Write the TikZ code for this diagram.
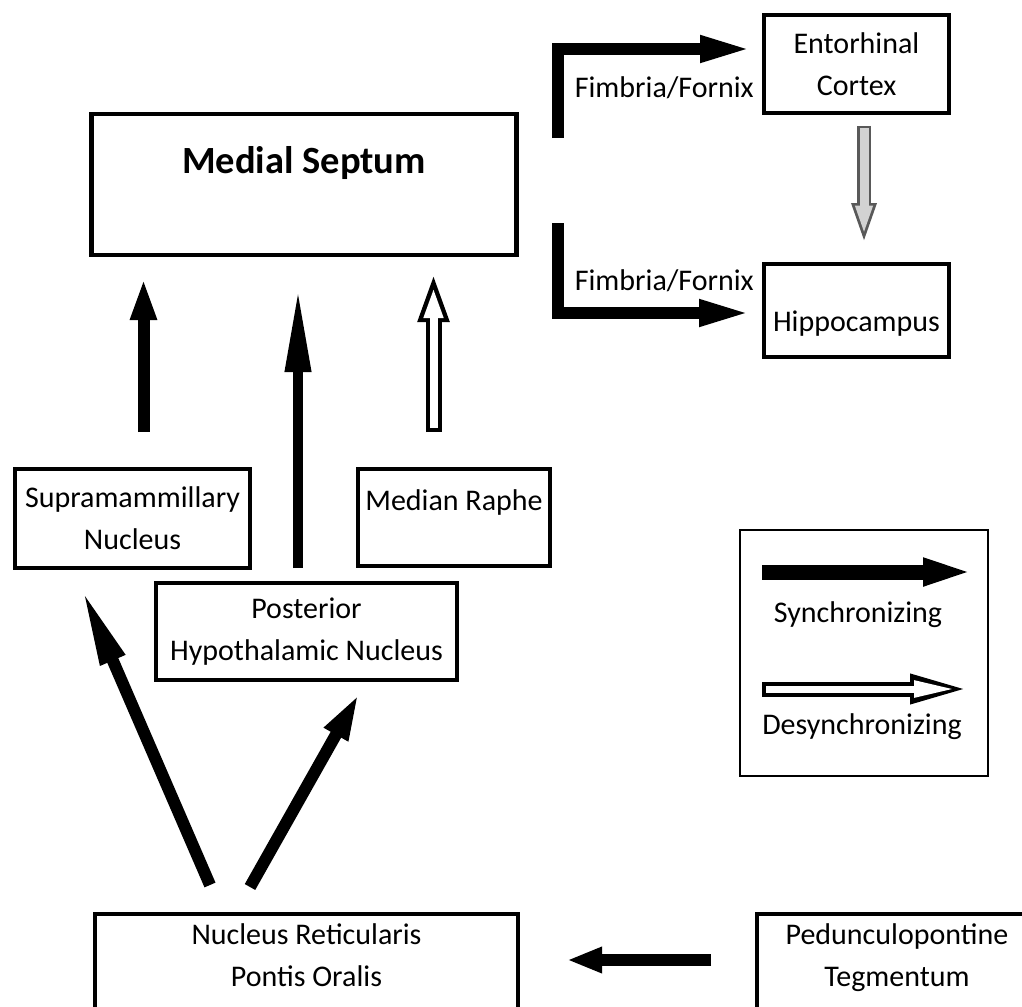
\documentclass[tikz,border=0pt]{standalone}
\usepackage{fontspec}
\setmainfont{Carlito}
\usetikzlibrary{arrows.meta,calc}

\begin{document}
\begin{tikzpicture}[x=1pt, y=-1pt,
  every node/.style = {font=\fontsize{30}{42}\selectfont, inner sep=0pt},
  box/.style = {draw, line width=4.5pt, rectangle, align=center, outer sep=0pt},
  sync/.style = {line width=12pt, -{Triangle[length=#1, width=24pt]}},
  sync/.default = 42pt,
  openarr/.style = {line width=16pt, -{Triangle[length=50pt, width=28pt]},
    postaction={draw=white, line width=8pt, shorten <=4pt, shorten >=14.8pt,
      -{Triangle[length=31.2pt, width=17.5pt]}}},
  keyopen/.style = {line width=15pt, -{Triangle[length=68pt, width=25pt]},
    postaction={draw=white, line width=7pt, shorten <=4pt, shorten >=22pt,
      -{Triangle[length=42pt, width=15.4pt]}}},
  grayarr/.style = {draw=gray!70!black, line width=14pt, -{Triangle[length=42pt, width=22pt]},
    postaction={draw=gray!35, line width=9pt, shorten <=2.5pt, shorten >=9.9pt,
      -{Triangle[length=29.6pt, width=15.5pt]}}}]
  \useasboundingbox (0,0) rectangle (1022,1006);
  \clip (0,0) rectangle (1022,1006);

  % boxes
  \node[box, minimum width=425pt, minimum height=141pt, text height=25pt, text depth=48pt,
    font=\fontsize{38.5}{44}\selectfont\bfseries] (ms) at (304,184.5) {Medial Septum};
  \node[box, minimum width=185pt, minimum height=98pt] (ec) at (856.5,64) {Entorhinal\\Cortex};
  \node[box, minimum width=185pt, minimum height=93pt, text height=47pt, text depth=6pt]
    (hc) at (856.5,310.5) {Hippocampus};
  \node[box, minimum width=235pt, minimum height=99pt] (sm) at (132.5,518.5) {Supramammillary\\Nucleus};
  \node[box, minimum width=192pt, minimum height=97pt, text height=20pt, text depth=35pt]
    (mr) at (454,517.5) {Median Raphe};
  \node[box, minimum width=301pt, minimum height=97pt] (ph) at (306.5,631.5) {Posterior\\Hypothalamic Nucleus};
  \node[box, anchor=north west, minimum width=423pt, inner ysep=10pt, text depth=80pt]
    (nr) at (95,914) {Nucleus Reticularis\\Pontis Oralis};
  \node[box, anchor=north west, minimum width=280pt, inner ysep=10pt, text depth=80pt]
    (ppt) at (757,914) {Pedunculopontine\\Tegmentum};

  % pathways
  \draw[sync] ($(sm.north)+(11,-37)$) -- ($(sm.north |- ms.south)+(11,23)$);
  \draw[sync=84pt, line width=10pt] ($(ph.north)+(-8.5,-15)$) -- ($(ph.north |- ms.south)+(-8.5,33)$);
  \draw[openarr] ($(mr.north)+(-20.5,-37)$) -- ($(mr.north |- ms.south)+(-20.5,17)$);
  \draw[sync=80pt] ($(nr.north)+(-96.5,-29)$) -- ($(sm.south)+(-51.5,19)$);
  \draw[sync=49pt] ($(nr.north)+(-56.5,-27)$) -- ($(ph.south)+(53.5,12)$);
  \draw[sync=35pt] ($(ppt.north west)+(-46,46)$) -- ($(nr.north east)+(49,46)$);
  \draw[sync=53pt, line join=miter] ($(ms.north east)+(41.5,24)$) |- ($(ec.west)+(-11,-15)$);
  \draw[sync=53pt, line join=miter] ($(ms.south east)+(41.5,-32)$) |- ($(hc.west)+(-12,2.5)$);
  \node[anchor=east] (ffup) at ($(ec.west)+(-10,24)$) {Fimbria/Fornix};
  \node[anchor=east] (ffdown) at ($(hc.west)+(-10,-30)$) {Fimbria/Fornix};
  \draw[grayarr] ($(ec.south)+(7.5,13)$) -- ($(ec.south |- hc.north)+(7.5,-19)$);

  % key
  \node[draw, line width=2pt, minimum width=248pt, minimum height=246pt, outer sep=0pt] (key) at (864,653) {};
  \coordinate (s1) at ($(key.center)+(-102,-81)$);
  \coordinate (s2) at ($(key.center)+(113,-81)$);
  \draw[sync=54pt, line width=15pt] (s1) -- (s2);
  \node (synctext) at ($(key.center)+(-6,-38)$) {Synchronizing};
  \coordinate (d1) at ($(key.center)+(-102,36)$);
  \coordinate (d2) at ($(key.center)+(114,36)$);
  \draw[keyopen] (d1) -- (d2);
  \node (desynctext) at ($(key.center)+(-2,74)$) {Desynchronizing};
\end{tikzpicture}
\end{document}
